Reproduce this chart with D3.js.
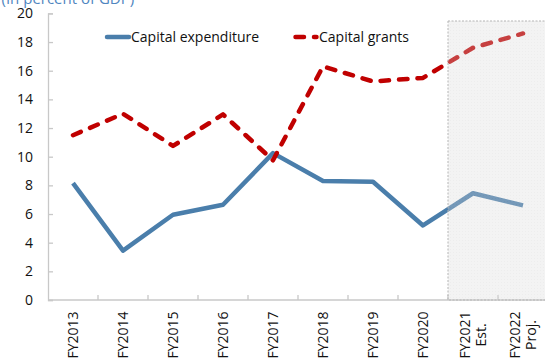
<!DOCTYPE html>
<html>
<head>
<meta charset="utf-8">
<script src="https://cdn.jsdelivr.net/npm/d3@7"></script>
<style>
  html, body { margin: 0; padding: 0; background: #fff; }
  svg { display: block; font-family: "Open Sans", "Noto Sans", sans-serif; }
</style>
</head>
<body>
<svg id="chart" width="545" height="360"></svg>
<script>
// Fiscal years on the category axis; the last two are estimate / projection
const categories = ["FY2013", "FY2014", "FY2015", "FY2016", "FY2017", "FY2018", "FY2019", "FY2020", "FY2021", "FY2022"];
const categoryLabels = [["FY2013"], ["FY2014"], ["FY2015"], ["FY2016"], ["FY2017"], ["FY2018"], ["FY2019"], ["FY2020"], ["FY2021", "Est."], ["FY2022", "Proj."]];
// Values in percent of GDP
const capitalExpenditure = [8.15, 3.45, 5.95, 6.65, 10.25, 8.3, 8.25, 5.2, 7.45, 6.6];
const capitalGrants = [11.5, 13.0, 10.75, 12.95, 9.75, 16.3, 15.25, 15.5, 17.6, 18.6];
const yTicks = [0, 2, 4, 6, 8, 10, 12, 14, 16, 18, 20];
const projectedFrom = "FY2021";
const seriesNames = ["Capital expenditure", "Capital grants"];
const title = "(In percent of GDP)";

const svg = d3.select("#chart");
const blue = "#4a7eab";
const red = "#c00000";
const axisGrey = "#c8c8c8";

const x = d3.scaleBand().domain(categories).range([48, 548]).padding(0);
const y = d3.scaleLinear().domain([0, 20]).range([300, 13.4]);
const cx = d => x(d) + x.bandwidth() / 2;

// Title (partly cut off at the top edge)
svg.append("text")
  .attr("x", 1.5).attr("y", 3.5)
  .attr("fill", "#4f86c0")
  .attr("font-size", 15)
  .text(title);

// Y axis with inward ticks
const yAxis = d3.axisLeft(y).tickValues(yTicks).tickSize(-5).tickPadding(15).tickFormat(d3.format("d"));
const gy = svg.append("g").attr("transform", "translate(48,0)").call(yAxis);
gy.select(".domain").attr("stroke", axisGrey).attr("stroke-width", 1.3);
gy.selectAll(".tick line").attr("stroke", axisGrey).attr("stroke-width", 1.3);
gy.selectAll(".tick text").attr("font-size", 14).attr("fill", "#111")
  .attr("font-family", "'Open Sans', 'Noto Sans', sans-serif");

// X axis line and ticks between categories
svg.append("line")
  .attr("x1", 48).attr("x2", 548).attr("y1", y(0)).attr("y2", y(0))
  .attr("stroke", axisGrey).attr("stroke-width", 1.3);
svg.append("g").selectAll("line")
  .data(categories.slice(1))
  .join("line")
  .attr("x1", d => x(d)).attr("x2", d => x(d))
  .attr("y1", y(0)).attr("y2", y(0) - 5)
  .attr("stroke", axisGrey).attr("stroke-width", 1.3);

// Rotated category labels
const lbl = svg.append("g").selectAll("text")
  .data(categories.map((c, i) => ({ c, lines: categoryLabels[i] })))
  .join("text")
  .attr("transform", d => `translate(${cx(d.c)},335) rotate(-90)`)
  .attr("text-anchor", "middle")
  .attr("font-size", 14)
  .attr("fill", "#111");
lbl.each(function (d) {
  const t = d3.select(this);
  const n = d.lines.length;
  d.lines.forEach((s, k) => {
    t.append("tspan")
      .attr("x", 0)
      .attr("y", (k - (n - 1) / 2) * 16.5 + 5)
      .text(s);
  });
});

// Series lines
const line = d3.line().x((d, i) => cx(categories[i])).y(d => y(d));
svg.append("path")
  .datum(capitalExpenditure)
  .attr("d", line)
  .attr("fill", "none")
  .attr("stroke", blue)
  .attr("stroke-width", 4.5)
  .attr("stroke-linejoin", "round");
svg.append("path")
  .datum(capitalGrants)
  .attr("d", line)
  .attr("fill", "none")
  .attr("stroke", red)
  .attr("stroke-width", 4.5)
  .attr("stroke-linejoin", "round")
  .attr("stroke-linecap", "round")
  .attr("stroke-dasharray", "8.5,10");

// Shaded estimate/projection region, laid over the lines
const defs = svg.append("defs");
const pat = defs.append("pattern")
  .attr("id", "dots").attr("width", 3).attr("height", 3)
  .attr("patternUnits", "userSpaceOnUse");
pat.append("rect").attr("width", 3).attr("height", 3).attr("fill", "#d8d8d8");
pat.append("rect").attr("width", 1).attr("height", 1).attr("fill", "#c4c4c4");
svg.append("rect")
  .attr("x", x(projectedFrom)).attr("y", 21)
  .attr("width", 548 - x(projectedFrom)).attr("height", y(0) - 21)
  .attr("fill", "url(#dots)")
  .attr("fill-opacity", 0.3)
  .attr("stroke", "#b5b5b5")
  .attr("stroke-width", 1)
  .attr("stroke-dasharray", "2,1.5");

// Legend
const legend = svg.append("g");
legend.append("line")
  .attr("x1", 107).attr("x2", 129).attr("y1", 37).attr("y2", 37)
  .attr("stroke", blue).attr("stroke-width", 4.5).attr("stroke-linecap", "round");
legend.append("text")
  .attr("x", 131).attr("y", 42)
  .attr("font-size", 14).attr("fill", "#111")
  .text(seriesNames[0]);
legend.append("line")
  .attr("x1", 295.5).attr("x2", 316.5).attr("y1", 37).attr("y2", 37)
  .attr("stroke", red).attr("stroke-width", 4.5).attr("stroke-linecap", "round")
  .attr("stroke-dasharray", "8.5,10");
legend.append("text")
  .attr("x", 319).attr("y", 42)
  .attr("font-size", 14).attr("fill", "#111")
  .text(seriesNames[1]);
</script>
</body>
</html>
